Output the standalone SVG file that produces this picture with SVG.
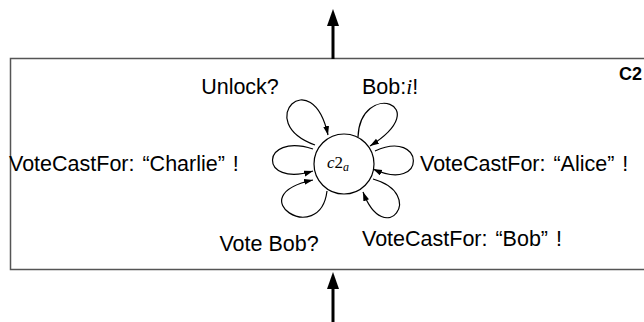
<svg xmlns="http://www.w3.org/2000/svg" width="644" height="322" viewBox="0 0 644 322">
  <style>
    .lbl { font-family: "Liberation Sans", Arial, sans-serif; font-size: 21.5px; fill: #000; }
    .wide { word-spacing: 2px; }
    .math { font-family: "Liberation Serif", "Times New Roman", serif; font-style: italic; }
    .up { font-family: "Liberation Serif", "Times New Roman", serif; font-style: normal; }
    .loop { fill: none; stroke: #000; stroke-width: 1.2; marker-end: url(#tip); }
    .io { stroke: #000; stroke-width: 3; marker-end: url(#bigtip); }
  </style>
  <defs>
    <marker id="tip" markerUnits="userSpaceOnUse" markerWidth="10" markerHeight="8" refX="9" refY="3" orient="auto">
      <path d="M0,0 L9,3 L0,6 z" fill="#000"/>
    </marker>
    <marker id="bigtip" markerUnits="userSpaceOnUse" markerWidth="20" markerHeight="14" refX="1" refY="6" orient="auto">
      <path d="M0,0 L17,6 L0,12 z" fill="#000"/>
    </marker>
  </defs>

  <!-- component frame -->
  <g id="component-C2">
    <rect x="10.5" y="58.5" width="660" height="211" fill="#fff" stroke="#555" stroke-width="1.5"/>
    <text x="619" y="80" font-family="Liberation Sans, Arial, sans-serif" font-weight="bold" font-size="18">C2</text>
  </g>

  <!-- the single state -->
  <g id="state-c2a">
    <circle cx="344" cy="164" r="30" fill="#fff" stroke="#000" stroke-width="1.2"/>
    <text x="327" y="168" font-size="17"><tspan class="math">c</tspan><tspan class="up">2</tspan><tspan class="math" font-size="12" dy="3">a</tspan></text>
  </g>

  <!-- self-loop transitions and the interface arrows -->
  <g id="connectors">
    <line class="io" x1="333" y1="59" x2="333" y2="25"/>
    <line class="io" x1="333" y1="322" x2="333" y2="288"/>
    <!-- Unlock? -->
    <path class="loop" d="M315,145 C252,122 312,62 328,135"/>
    <!-- Bob:i! -->
    <path class="loop" d="M358,137 C360,80 437,104 370,146"/>
    <!-- VoteCastFor "Alice" -->
    <path class="loop" d="M375,151 C425,128 428,194 373,169"/>
    <!-- VoteCastFor "Bob" -->
    <path class="loop" d="M373,179 C427,194 385,250 363,192"/>
    <!-- Vote Bob? -->
    <path class="loop" d="M327,191 C320,248 238,196 313,180"/>
    <!-- VoteCastFor "Charlie" -->
    <path class="loop" d="M313,149 C260,132 258,188 313,171"/>
  </g>

  <!-- transition labels -->
  <g id="labels">
    <text class="lbl" x="240" y="94" text-anchor="middle">Unlock?</text>
    <text class="lbl" x="362" y="94">Bob:<tspan class="math">i</tspan>!</text>
    <text class="lbl wide" x="9" y="171">VoteCastFor: “Charlie” !</text>
    <text class="lbl wide" x="420" y="171">VoteCastFor: “Alice” !</text>
    <text class="lbl" x="269" y="251" text-anchor="middle">Vote Bob?</text>
    <text class="lbl wide" x="362" y="246">VoteCastFor: “Bob” !</text>
  </g>
</svg>
